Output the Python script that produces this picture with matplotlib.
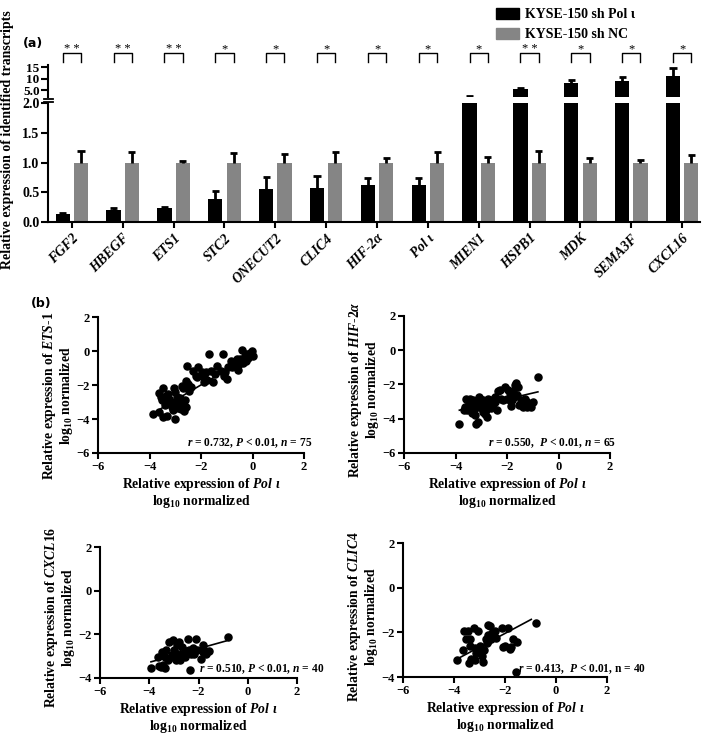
import numpy as np
import matplotlib
matplotlib.use("Agg")
import matplotlib.pyplot as plt
from matplotlib import transforms
from matplotlib.lines import Line2D
from matplotlib.patches import Patch

plt.rcParams['font.family'] = ['Liberation Serif', 'DejaVu Serif']
plt.rcParams['font.weight'] = 'bold'
plt.rcParams['axes.labelweight'] = 'bold'
plt.rcParams['mathtext.fontset'] = 'custom'
plt.rcParams['mathtext.rm'] = 'Liberation Serif:bold'
plt.rcParams['mathtext.it'] = 'Liberation Serif:italic:bold'
plt.rcParams['mathtext.bf'] = 'Liberation Serif:bold'
plt.rcParams['axes.linewidth'] = 1.5

# ---- (a) bar data ----
genes = ['FGF2', 'HBEGF', 'ETS1', 'STC2', 'ONECUT2', 'CLIC4', 'HIF-2α', 'Pol ι',
         'MIEN1', 'HSPB1', 'MDK', 'SEMA3F', 'CXCL16']
sh_pol = [0.13, 0.20, 0.23, 0.38, 0.56, 0.57, 0.63, 0.63, 2.1, 5.4, 8.0, 8.9, 11.1]
sh_pol_err = [0.02, 0.04, 0.02, 0.14, 0.19, 0.21, 0.11, 0.11, 0.08, 0.5, 1.3, 1.8, 3.4]
sh_nc = [1.0] * 13
sh_nc_err = [0.20, 0.17, 0.03, 0.16, 0.15, 0.18, 0.07, 0.17, 0.10, 0.19, 0.08, 0.05, 0.13]
signif = ['* *', '* *', '* *', '*', '*', '*', '*', '*', '*', '* *', '*', '*', '*']

# ---- (b) scatter data ----
ets_x = [-3.87, -3.64, -3.46, -3.33, -3.0, -3.62, -3.46, -3.55, -3.51, -3.29, -3.23, -3.17,
         -3.13, -3.04, -3.0, -2.95, -2.91, -2.85, -2.78, -2.65, -2.59, -2.69, -2.62, -2.74,
         -2.59, -2.46, -2.40, -2.53, -2.31, -2.10, -2.14, -1.97, -1.88, -1.82, -1.76, -1.67,
         -1.63, -1.54, -1.44, -1.37, -1.24, -1.14, -1.12, -1.05, -0.99, -0.95, -0.82, -0.79,
         -0.56, -0.54, -0.47, -0.41, -0.38, -0.31, -0.26, -0.18, -0.09, -0.03, 0.03, -0.05,
         -0.15, -3.35, -3.2, -3.05, -2.9, -2.8, -3.4, -2.7, -2.2, -1.9, -0.7, -0.25, -3.1,
         -2.5, -0.6]
ets_y = [-3.73, -3.59, -3.88, -3.84, -4.0, -2.49, -2.19, -2.72, -2.91, -2.52, -2.82, -3.11,
         -3.30, -2.17, -2.43, -2.72, -2.91, -3.2, -3.4, -3.5, -3.30, -3.11, -2.91, -2.04,
         -1.79, -2.33, -2.10, -0.91, -1.17, -0.93, -1.55, -1.26, -1.84, -1.26, -1.71, -0.16,
         -1.20, -1.84, -1.36, -0.87, -1.17, -0.19, -1.46, -1.26, -1.65, -0.97, -0.58, -0.93,
         -1.13, -0.78, -0.49, 0.04, -0.68, -0.29, -0.58, -0.39, -0.10, 0.0, -0.29, -0.19,
         -0.23, -2.65, -2.95, -3.05, -3.35, -2.75, -3.2, -2.2, -1.45, -1.5, -0.75, -0.15, -3.45,
         -1.95, -0.45]
ets_fit_x = [-3.9, 0.0]
ets_fit_y = [-3.7, -0.2]

hif_x = [-3.87, -3.19, -3.13, -3.59, -3.42, -3.62, -3.55, -3.36, -3.29, -3.23, -3.17, -3.10,
         -3.04, -3.0, -2.95, -2.91, -2.87, -2.82, -2.78, -2.74, -2.69, -2.65, -2.53, -2.46,
         -2.40, -2.36, -2.27, -2.14, -2.08, -2.01, -1.88, -1.85, -1.79, -1.76, -1.69, -1.65,
         -1.59, -1.54, -1.44, -1.37, -1.31, -1.24, -1.18, -1.05, -0.99, -0.79, -3.1, -2.97,
         -3.42, -3.68, -2.62, -2.23, -1.95, -1.72, -3.23, -2.85, -3.08, -2.72, -1.63, -1.24,
         -3.33, -2.95, -2.46, -3.49, -1.88]
hif_y = [-4.33, -4.33, -4.17, -2.82, -2.82, -3.30, -3.50, -3.69, -3.20, -3.40, -3.01, -3.30,
         -2.82, -3.11, -2.91, -3.30, -3.73, -3.50, -3.88, -3.11, -3.30, -2.91, -3.11, -3.01,
         -3.50, -2.37, -2.33, -2.91, -2.17, -2.82, -2.52, -3.26, -2.91, -2.37, -2.04, -1.90,
         -2.14, -3.20, -2.91, -3.30, -2.82, -3.01, -3.26, -3.30, -3.01, -1.59, -2.72, -3.4,
         -3.40, -3.50, -3.40, -2.87, -2.33, -2.72, -3.79, -3.26, -3.11, -2.82, -2.62, -3.30,
         -2.91, -3.59, -2.72, -3.11, -2.91]
hif_fit_x = [-3.85, -0.8]
hif_fit_y = [-3.5, -2.43]

cxcl_x = [-3.93, -3.66, -3.59, -3.48, -3.43, -3.35, -3.32, -3.25, -3.21, -3.12, -3.05, -2.98,
          -2.91, -2.84, -2.78, -2.75, -2.67, -2.61, -2.53, -2.50, -2.42, -2.39, -2.34, -2.30,
          -2.23, -2.12, -2.07, -1.89, -1.82, -1.76, -1.69, -1.58, -0.80, -3.52, -3.07, -2.88,
          -2.20, -1.80, -3.35, -2.71]
cxcl_y = [-3.52, -3.03, -3.45, -2.80, -3.39, -3.52, -2.70, -3.18, -2.35, -3.03, -2.27, -2.70,
          -3.18, -2.91, -2.35, -3.18, -2.58, -2.88, -3.03, -2.76, -2.20, -2.70, -3.64, -2.88,
          -2.61, -2.23, -2.70, -3.11, -2.50, -2.70, -2.88, -2.76, -2.12, -3.48, -2.95, -2.50,
          -2.91, -2.80, -3.03, -3.03]
cxcl_fit_x = [-3.93, -0.87]
cxcl_fit_y = [-3.26, -2.30]

clic_x = [-3.87, -3.64, -3.61, -3.47, -3.51, -3.42, -3.38, -3.32, -3.21, -3.18, -3.12, -3.05,
          -2.99, -2.89, -2.86, -2.82, -2.76, -2.68, -2.59, -2.66, -2.55, -2.50, -2.42, -2.37,
          -2.11, -2.07, -2.00, -1.87, -1.80, -1.76, -1.67, -1.54, -1.58, -0.79, -3.38, -2.95,
          -2.72, -2.39, -3.18, -2.66]
clic_y = [-3.22, -2.77, -1.95, -1.95, -2.32, -3.37, -2.59, -3.19, -1.80, -2.70, -2.92, -1.95,
          -2.59, -3.04, -3.33, -2.77, -2.32, -1.69, -1.72, -2.40, -2.29, -2.05, -2.17, -2.25,
          -1.80, -2.65, -2.59, -1.80, -2.74, -2.65, -2.29, -2.44, -3.79, -1.60, -2.32, -2.74,
          -2.47, -1.95, -3.22, -2.10]
clic_fit_x = [-3.87, -0.97]
clic_fit_y = [-3.19, -1.42]

W, H = 709, 734
fig = plt.figure(figsize=(W / 100, H / 100), dpi=100)


def box(l, t, r, b):
    return [l / W, 1 - b / H, (r - l) / W, (b - t) / H]


# ---------- panel (a) ----------
ax_lo = fig.add_axes(box(48, 103, 700, 222))
ax_hi = fig.add_axes(box(48, 65, 700, 97))
x = np.arange(len(genes))
off, bw = 0.18, 0.28
for ax in (ax_lo, ax_hi):
    ax.bar(x - off, sh_pol, bw, color='black', zorder=2)
    ax.bar(x + off, sh_nc, bw, color='#858585', zorder=2)
    for xs, v, e in ((x - off, sh_pol, sh_pol_err), (x + off, sh_nc, sh_nc_err)):
        top = np.array(v) + np.array(e)
        ax.vlines(xs, v, top, color='black', lw=2, zorder=3)
        ax.hlines(top, xs - 0.07, xs + 0.07, color='black', lw=2, zorder=3)
    ax.set_xlim(-0.47, 12.35)
    ax.spines['top'].set_visible(False)
    ax.spines['right'].set_visible(False)
    ax.tick_params(axis='y', direction='out', length=5, width=1.5, labelsize=10, pad=1)

ax_lo.set_ylim(0, 2.0)
ax_lo.set_yticks([0, 0.5, 1.0, 1.5, 2.0])
ax_lo.set_yticklabels(['0.0', '0.5', '1.0', '1.5', '2.0'])
ax_lo.set_xticks(x)
ax_lo.set_xticklabels(genes, rotation=45, ha='right', rotation_mode='anchor',
                      fontstyle='italic', fontsize=10)
ax_lo.tick_params(axis='x', direction='out', length=4, width=1.5, pad=3)

ax_hi.set_ylim(1.96, 15.9)
ax_hi.set_yticks([5, 10, 15])
ax_hi.set_yticklabels(['5.0', '10', '15'])
ax_hi.tick_params(axis='y', labelsize=9.5)
ax_hi.spines['bottom'].set_visible(False)
ax_hi.set_xticks([])

# axis break marks
for yy in (98.5, 101.5):
    fig.add_artist(Line2D([44 / W, 53 / W], [1 - yy / H, 1 - yy / H], color='black', lw=1.3))

# significance brackets
tr = transforms.blended_transform_factory(ax_hi.transData, fig.transFigure)
for i, s in enumerate(signif):
    xl, xr = i - off, i + off
    ax_hi.plot([xl, xl, xr, xr], [1 - 62 / H, 1 - 53 / H, 1 - 53 / H, 1 - 62 / H],
               color='black', lw=1, transform=tr, clip_on=False)
    ax_hi.text(i, 1 - 49 / H, s, transform=tr, ha='center', va='center', fontsize=9,
               fontweight='normal')

fig.text(8 / W, 1 - 140 / H, 'Relative expression of identified transcripts', rotation=90,
         ha='center', va='center', fontsize=10)
fig.text(23 / W, 1 - 43 / H, '(a)', ha='left', va='center', fontsize=9,
         family='DejaVu Sans')
fig.legend(handles=[Patch(color='black', label='KYSE-150 sh Pol ι'),
                    Patch(color='#858585', label='KYSE-150 sh NC')],
           loc='upper left', bbox_to_anchor=(486 / W, 1 + 2 / H), frameon=False,
           fontsize=10, handlelength=1.7, handleheight=0.9, labelspacing=0.45,
           handletextpad=0.4, borderpad=0.2)

# ---------- panel (b) ----------
fig.text(31 / W, 1 - 304 / H, '(b)', ha='left', va='center', fontsize=9,
         family='DejaVu Sans')

panels = [
    (box(98, 317, 304, 453), ets_x, ets_y, ets_fit_x, ets_fit_y, (-6, 2), [-6, -4, -2, 0, 2],
     r'$\mathit{ETS}$-$\mathit{1}$', r'$\mathit{r}$ = 0.732, $\mathit{P}$ < 0.01, $\mathit{n}$ = 75',
     (1.04, 0.075), 0.42),
    (box(404, 316, 610, 453), hif_x, hif_y, hif_fit_x, hif_fit_y, (-6, 2), [-6, -4, -2, 0, 2],
     r'$\mathit{HIF}$-$\mathit{2α}$', r'$\mathit{r}$ = 0.550,  $\mathit{P}$ < 0.01, $\mathit{n}$ = 65',
     (1.03, 0.075), 0.46),
    (box(100, 547, 297, 678), cxcl_x, cxcl_y, cxcl_fit_x, cxcl_fit_y, (-4, 2), [-4, -2, 0, 2],
     r'$\mathit{CXCL16}$', r'$\mathit{r}$ = 0.510, $\mathit{P}$ < 0.01, $\mathit{n}$ = 40',
     (1.14, 0.07), 0.46),
    (box(403, 543, 607, 677), clic_x, clic_y, clic_fit_x, clic_fit_y, (-4, 2), [-4, -2, 0, 2],
     r'$\mathit{CLIC4}$', r'$\mathit{r}$ = 0.413,  $\mathit{P}$ < 0.01, n = 40',
     (1.19, 0.055), 0.45),
]

for rect, px, py, fx, fy, ylim, yt, gene, note, npos, ly in panels:
    ax = fig.add_axes(rect)
    ax.scatter(px, py, s=26, color='black', zorder=3, clip_on=False)
    ax.plot(fx, fy, color='black', lw=1.2, zorder=2)
    ax.set_xlim(-6, 2)
    ax.set_ylim(*ylim)
    ax.set_xticks([-6, -4, -2, 0, 2])
    ax.set_yticks(yt)
    ax.spines['top'].set_visible(False)
    ax.spines['right'].set_visible(False)
    ax.tick_params(direction='out', length=4, width=1.5, labelsize=9, pad=2)
    ax.set_xlabel('Relative expression of $\\mathit{Pol\\ ι}$\nlog$_{10}$ normalized',
                  fontsize=9.8, labelpad=2, linespacing=1.0)
    ax.set_ylabel('Relative expression of ' + gene + '\nlog$_{10}$ normalized',
                  fontsize=9.8, labelpad=1, linespacing=1.0)
    ax.yaxis.label.set_y(ly)
    ax.text(npos[0], npos[1], note, transform=ax.transAxes, ha='right', va='center',
            fontsize=8.3)

fig.savefig('out.png', dpi=100)
